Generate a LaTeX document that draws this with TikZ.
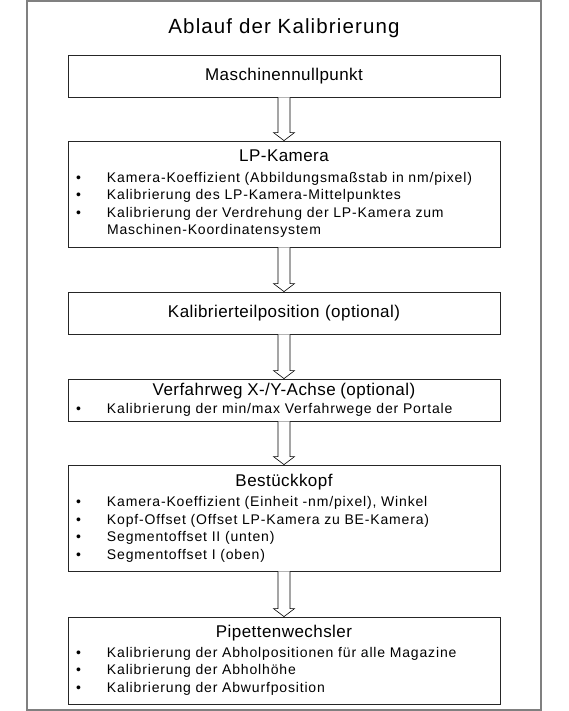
\documentclass[tikz,border=0pt]{standalone}
\usepackage{fontspec}
\setmainfont{Liberation Sans}
\newfontfamily\bodyfont[LetterSpace=6]{Liberation Sans}
\newfontfamily\headfont[LetterSpace=2.6]{Liberation Sans}
\newfontfamily\titlefont[LetterSpace=5.5]{Liberation Sans}
\usetikzlibrary{positioning,calc}

\newcommand{\bul}{\makebox[31pt][l]{\textbullet}}
\newcommand{\boxhead}[1]{\makebox[\hsize]{\headfont\fontsize{17}{20}\selectfont #1}}

\begin{document}
\begin{tikzpicture}[
        x=1pt, y=-1pt,
        stepbox/.style={rectangle, draw=black!85, line width=0.8pt, inner xsep=8pt, inner ysep=0pt, text width=416pt, align=center, font=\headfont\fontsize{17}{20}\selectfont},
        listbox/.style={stepbox, align=left, font=\bodyfont\fontsize{14}{17.5}\selectfont},
        hollow/.style={draw=black, line width=0.6pt, fill=white},
        frame/.style={draw=black!50, line width=1.5pt},
      ]
      \useasboundingbox (0,0) rectangle (568,711);
      \draw [frame] (27,1) rectangle (541,710);
      \node [font=\titlefont\fontsize{20.5}{24}\selectfont] at (284,28) (titel) {Ablauf der Kalibrierung};
      \node [stepbox, minimum height=42pt] at (284,76) (nullpunkt) {Maschinennullpunkt};
      \node [listbox, minimum height=106pt] at (284,194) (lpkamera) {\boxhead{LP-Kamera}\\[3pt]
        \bul Kamera-Koeffizient (Abbildungsmaßstab in nm/pixel)\\
        \bul Kalibrierung des LP-Kamera-Mittelpunktes\\
        \bul Kalibrierung der Verdrehung der LP-Kamera zum\\
        \hspace*{31pt}Maschinen-Koordinatensystem};
      \node [stepbox, minimum height=42pt] at (284,313) (kalibrierteil) {Kalibrierteilposition (optional)};
      \node [listbox, minimum height=42pt] at (284,400) (verfahrweg) {\boxhead{Verfahrweg X-/Y-Achse (optional)}\\[1pt]
        \bul Kalibrierung der min/max Verfahrwege der Portale};
      \node [listbox, minimum height=106pt] at (284,518) (kopf) {\boxhead{Bestückkopf}\\[3pt]
        \bul Kamera-Koeffizient (Einheit -nm/pixel), Winkel\\
        \bul Kopf-Offset (Offset LP-Kamera zu BE-Kamera)\\
        \bul Segmentoffset II (unten)\\
        \bul Segmentoffset I (oben)};
      \node [listbox, minimum height=87pt] at (284,660.5) (pipette) {\boxhead{Pipettenwechsler}\\[2pt]
        \bul Kalibrierung der Abholpositionen für alle Magazine\\
        \bul Kalibrierung der Abholhöhe\\
        \bul Kalibrierung der Abwurfposition};
      % hollow arrows between the steps
      \draw [hollow] ([xshift=-6pt]nullpunkt.south) -- ([xshift=-6pt,yshift=8pt]lpkamera.north) -- ([xshift=-10.5pt,yshift=8pt]lpkamera.north) -- (lpkamera.north) -- ([xshift=10.5pt,yshift=8pt]lpkamera.north) -- ([xshift=6pt,yshift=8pt]lpkamera.north) -- ([xshift=6pt]nullpunkt.south);
      \draw [hollow] ([xshift=-6pt]lpkamera.south) -- ([xshift=-6pt,yshift=8pt]kalibrierteil.north) -- ([xshift=-10.5pt,yshift=8pt]kalibrierteil.north) -- (kalibrierteil.north) -- ([xshift=10.5pt,yshift=8pt]kalibrierteil.north) -- ([xshift=6pt,yshift=8pt]kalibrierteil.north) -- ([xshift=6pt]lpkamera.south);
      \draw [hollow] ([xshift=-6pt]kalibrierteil.south) -- ([xshift=-6pt,yshift=8pt]verfahrweg.north) -- ([xshift=-10.5pt,yshift=8pt]verfahrweg.north) -- (verfahrweg.north) -- ([xshift=10.5pt,yshift=8pt]verfahrweg.north) -- ([xshift=6pt,yshift=8pt]verfahrweg.north) -- ([xshift=6pt]kalibrierteil.south);
      \draw [hollow] ([xshift=-6pt]verfahrweg.south) -- ([xshift=-6pt,yshift=8pt]kopf.north) -- ([xshift=-10.5pt,yshift=8pt]kopf.north) -- (kopf.north) -- ([xshift=10.5pt,yshift=8pt]kopf.north) -- ([xshift=6pt,yshift=8pt]kopf.north) -- ([xshift=6pt]verfahrweg.south);
      \draw [hollow] ([xshift=-6pt]kopf.south) -- ([xshift=-6pt,yshift=8pt]pipette.north) -- ([xshift=-10.5pt,yshift=8pt]pipette.north) -- (pipette.north) -- ([xshift=10.5pt,yshift=8pt]pipette.north) -- ([xshift=6pt,yshift=8pt]pipette.north) -- ([xshift=6pt]kopf.south);
    \end{tikzpicture}
\end{document}
